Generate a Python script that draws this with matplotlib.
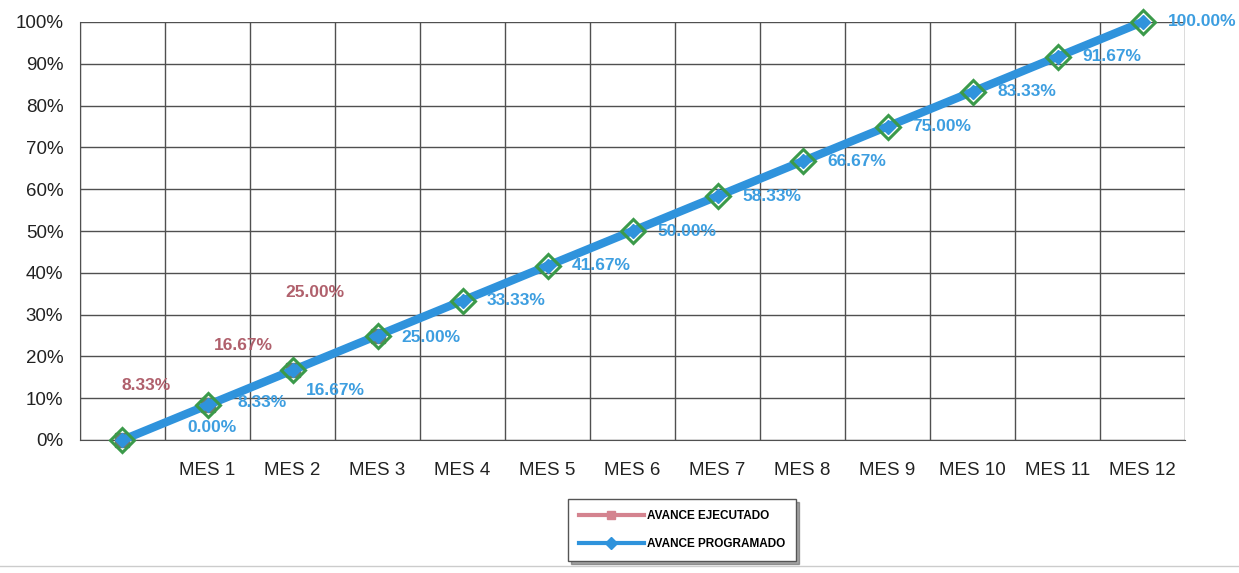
import matplotlib
matplotlib.use("Agg")
import matplotlib.pyplot as plt
from matplotlib.lines import Line2D

plt.rcParams['font.family'] = ['Liberation Sans', 'DejaVu Sans']

categories = ['', 'MES 1', 'MES 2', 'MES 3', 'MES 4', 'MES 5', 'MES 6',
              'MES 7', 'MES 8', 'MES 9', 'MES 10', 'MES 11', 'MES 12']
programado = [0.0, 8.33, 16.67, 25.00, 33.33, 41.67, 50.00, 58.33, 66.67,
              75.00, 83.33, 91.67, 100.00]
ejecutado = [0.0, 8.33, 16.67, 25.00]
prog_labels = ['0.00%', '8.33%', '16.67%', '25.00%', '33.33%', '41.67%', '50.00%',
               '58.33%', '66.67%', '75.00%', '83.33%', '91.67%', '100.00%']
ejec_labels = ['8.33%', '16.67%', '25.00%']
y_ticks = [0, 10, 20, 30, 40, 50, 60, 70, 80, 90, 100]

# label offsets in pixels (style, not data)
prog_off = [(89, 13), (55, 3), (43, -20), (53, -2)] + [(54, 0)] * 8 + [(60, 0)]
ejec_off = [(-61, 20), (-49, 25), (-63, 43)]

BLUE = '#2f93dc'
BLUE_TXT = '#3d9ee0'
RED = '#d4838f'
RED_TXT = '#b0606c'
GREEN = '#3b9a4a'
GRID = '#505050'

fig = plt.figure(figsize=(12.39, 5.73), dpi=100)
ax = fig.add_axes([80/1239, 1 - 440/573, (1185-80)/1239, (440-22)/573])

x = list(range(len(categories)))
xe = x[:len(ejecutado)]

ax.set_xlim(-0.5, len(categories) - 0.5)
ax.set_ylim(0, 100)
ax.set_yticks(y_ticks)
ax.set_yticklabels([f'{v}%' for v in y_ticks], fontsize=13.5, color='#222222')
ax.set_xticks(x)
ax.set_xticklabels(categories, fontsize=13.5, color='#222222')
ax.set_xticks([i - 0.5 for i in range(len(categories) + 1)], minor=True)
ax.tick_params(axis='both', which='both', length=0)
ax.tick_params(axis='y', pad=12)
ax.tick_params(axis='x', pad=16)
ax.grid(True, which='minor', axis='x', color=GRID, lw=1.0)
ax.grid(True, which='major', axis='y', color=GRID, lw=1.0)
for s in ax.spines.values():
    s.set_visible(False)
ax.spines['left'].set_visible(True)
ax.spines['left'].set_color(GRID)
ax.spines['bottom'].set_visible(True)
ax.spines['bottom'].set_color(GRID)
ax.set_axisbelow(True)

ax.plot(xe, ejecutado, color=RED, lw=4, marker='s', markersize=10,
        markerfacecolor='#6f7a6a', markeredgecolor='#6f7a6a', zorder=3, clip_on=False)
ax.plot(x, programado, color=BLUE, lw=6, marker='D', markersize=7,
        markerfacecolor=BLUE, markeredgecolor=BLUE, zorder=4, clip_on=False)
ax.plot(x, programado, linestyle='none', marker='D', markersize=12,
        markerfacecolor='none', markeredgecolor=GREEN, markeredgewidth=2.2,
        zorder=5, clip_on=False)

for i, (v, lab) in enumerate(zip(programado, prog_labels)):
    dx, dy = prog_off[i]
    ax.annotate(lab, (x[i], v), xytext=(dx, dy), textcoords='offset pixels',
                ha='center', va='center', fontsize=12.5, fontweight='bold',
                color=BLUE_TXT, zorder=6, annotation_clip=False)

for i, lab in enumerate(ejec_labels):
    dx, dy = ejec_off[i]
    ax.annotate(lab, (xe[i + 1], ejecutado[i + 1]), xytext=(dx, dy),
                textcoords='offset pixels', ha='center', va='center',
                fontsize=12.5, fontweight='bold', color=RED_TXT, zorder=6,
                annotation_clip=False)

handles = [
    Line2D([0], [0], color=RED, lw=3, marker='s', markersize=6,
           markerfacecolor=RED, markeredgecolor=RED),
    Line2D([0], [0], color=BLUE, lw=3, marker='D', markersize=6,
           markerfacecolor=BLUE, markeredgecolor=BLUE),
]
leg = fig.legend(handles, ['AVANCE EJECUTADO', 'AVANCE PROGRAMADO'],
                 loc='center', bbox_to_anchor=(682/1239, 1 - 530/573),
                 frameon=True, fancybox=False, shadow=True,
                 prop={'weight': 'bold', 'size': 8.5}, handlelength=5.5,
                 labelspacing=1.4, borderpad=0.9, handletextpad=0.3,
                 borderaxespad=0)
leg.get_frame().set_edgecolor('#555555')
leg.get_frame().set_linewidth(1.0)

# page edge line at bottom of scan
fig.add_artist(Line2D([0, 1], [1 - 566/573, 1 - 566/573], color='#cccccc', lw=1))

fig.savefig('out.png', dpi=100)
